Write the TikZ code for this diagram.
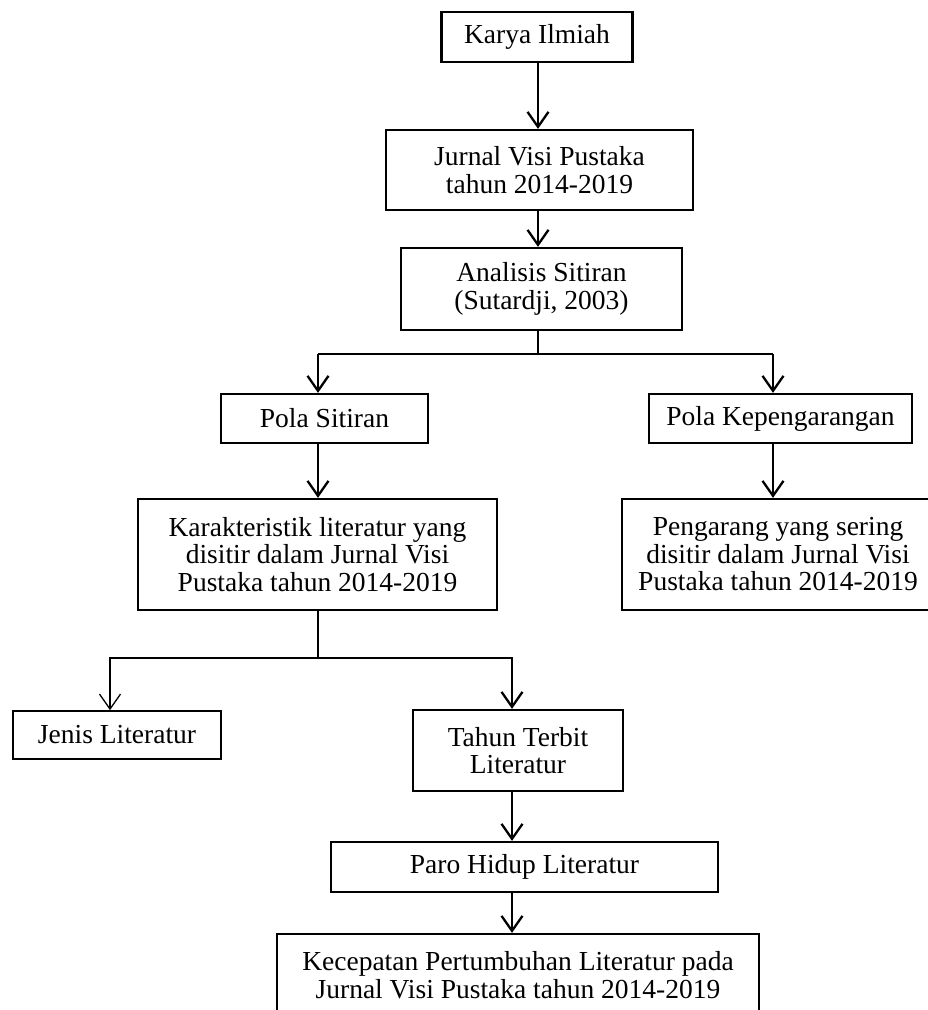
\documentclass[tikz,border=0pt]{standalone}
\usepackage{fontspec}
\setmainfont{Liberation Serif}
\usetikzlibrary{arrows.meta,calc}
\tikzset{
  box/.style={draw=black, line width=2.3pt, align=center, inner sep=0pt,
    font=\fontsize{27.5}{27.5}\selectfont, anchor=center},
  thinbox/.style={box, line width=1.6pt},
  conn/.style={line width=2.3pt, draw=black},
  thinconn/.style={line width=1.3pt, draw=black},
  arr/.style={-{Straight Barb[length=15pt,width=21pt]}},
}
\begin{document}
\begin{tikzpicture}[x=1pt,y=-1pt]
\useasboundingbox (0,0) rectangle (928,1010);
\begin{scope}
\clip (0,0) rectangle (928,1010);
\node[box, minimum width=191pt, minimum height=50pt] (ki) at (537,37) {Karya Ilmiah};
\node[box, minimum width=307pt, minimum height=80pt] (jv) at (539.5,170) {Jurnal Visi Pustaka\\tahun 2014-2019};
\node[box, minimum width=281pt, minimum height=82pt] (an) at (541.5,289) {Analisis Sitiran\\(Sutardji, 2003)};
\node[box, minimum width=207pt, minimum height=49pt] (ps) at (324.5,418.5) {Pola Sitiran};
\node[box, minimum width=263pt, minimum height=49pt] (pk) at (780.5,418.5) {Pola Kepengarangan};
\node[box, minimum width=359pt, minimum height=111pt] (ka) at (317.5,554.5) {Karakteristik literatur yang\\disitir dalam Jurnal Visi\\Pustaka tahun 2014-2019};
\node[box, minimum width=312pt, minimum height=111pt] (pg) at (778,554.5) {Pengarang yang sering\\disitir dalam Jurnal Visi\\Pustaka tahun 2014-2019};
\node[thinbox, minimum width=208pt, minimum height=48pt] (jl) at (117,735) {Jenis Literatur};
\node[box, minimum width=210pt, minimum height=81pt] (tt) at (518,750.5) {Tahun Terbit\\Literatur};
\node[box, minimum width=387pt, minimum height=50pt] (ph) at (524.5,867) {Paro Hidup Literatur};
\node[box, minimum width=482pt, minimum height=82pt] (kp) at (518,975) {Kecepatan Pertumbuhan Literatur pada\\Jurnal Visi Pustaka tahun 2014-2019};

\coordinate (c1) at (538,0);
\coordinate (j1) at (538,354);
\coordinate (j1l) at (318,354);
\coordinate (j1r) at (773,354);
\coordinate (j2) at (318,658);
\coordinate (j2l) at (110,658);
\coordinate (j2r) at (512,658);

\draw[conn,arr] (ki.south -| c1) -- (jv.north -| c1);
\draw[conn,arr] (jv.south -| c1) -- (an.north -| c1);
\draw[conn] (an.south -| j1) -- (j1);
\draw[conn] (j1l) -- (j1r);
\draw[conn,arr] (j1l) -- (ps.north -| j1l);
\draw[conn,arr] (j1r) -- (pk.north -| j1r);
\draw[conn,arr] (ps.south -| j1l) -- (ka.north -| j1l);
\draw[conn,arr] (pk.south -| j1r) -- (pg.north -| j1r);
\draw[conn] (ka.south -| j2) -- (j2);
\draw[thinconn,arr] (j2) -- (j2l) -- (jl.north -| j2l);
\draw[conn,arr] (j2) -- (j2r) -- (tt.north -| j2r);
\draw[conn,arr] (tt.south -| j2r) -- (ph.north -| j2r);
\draw[conn,arr] (ph.south -| j2r) -- (kp.north -| j2r);
\end{scope}
\end{tikzpicture}
\end{document}
